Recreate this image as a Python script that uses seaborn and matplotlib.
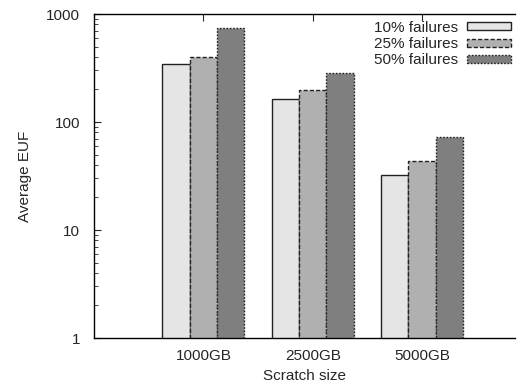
import matplotlib
matplotlib.use("Agg")
import matplotlib.pyplot as plt
from matplotlib.patches import Patch
import seaborn as sns
import pandas as pd

sizes = ["1000GB", "2500GB", "5000GB"]
series = ["10% failures", "25% failures", "50% failures"]
euf_10 = [345, 162, 32]
euf_25 = [400, 198, 44]
euf_50 = [740, 286, 72]

fills = ["#e5e5e5", "#b0b0b0", "#7f7f7f"]
styles = ["solid", (0, (3, 1.5)), (0, (1.2, 1.2))]

rows = []
for s, vals in zip(series, [euf_10, euf_25, euf_50]):
    for sz, v in zip(sizes, vals):
        rows.append({"size": sz, "failures": s, "euf": v})
df = pd.DataFrame(rows)

sns.set_style("white")
plt.rcParams["font.family"] = ["Liberation Sans", "DejaVu Sans"]

fig = plt.figure(figsize=(5.23, 3.85), dpi=100)
ax = fig.add_axes([94 / 523, 47 / 385, 421 / 523, 324 / 385])

sns.barplot(data=df, x="size", y="euf", hue="failures", order=sizes,
            hue_order=series, palette=fills, width=0.75, ax=ax,
            edgecolor="#222222", linewidth=1.0, saturation=1, legend=False)
ax.set_yscale("log")
ax.set_ylim(1, 1000)
ax.set_xlim(-1.0, 2.85)

for cont, ls in zip(ax.containers, styles):
    for p in cont.patches:
        p.set_linestyle(ls)

for side in ["left", "bottom", "top"]:
    ax.spines[side].set_visible(True)
    ax.spines[side].set_color("black")
    ax.spines[side].set_linewidth(1.0)
ax.spines["right"].set_visible(False)

ax.tick_params(axis="y", which="both", direction="in", left=True, right=False,
               labelsize=11, pad=10)
ax.tick_params(axis="y", which="major", length=5)
ax.tick_params(axis="y", which="minor", length=3)
ax.set_yticks([1, 10, 100, 1000])
ax.set_yticklabels(["1", "10", "100", "1000"])
ax.tick_params(axis="x", which="both", direction="in", bottom=True, top=True,
               length=5, labelsize=11, pad=8)
ax.set_zorder(1)

ax.set_xlabel("Scratch size", fontsize=11, labelpad=4)
ax.set_ylabel("Average EUF", fontsize=11, labelpad=10)

handles = [Patch(facecolor=f, edgecolor="#222222", linestyle=ls, linewidth=1.0)
           for f, ls in zip(fills, styles)]
ax.legend(handles, series, loc="upper right", frameon=False, markerfirst=False,
          fontsize=11, handlelength=2.9, handleheight=0.45, labelspacing=0.15,
          borderaxespad=0.3, handletextpad=0.6, bbox_to_anchor=(1.017, 1.012))

fig.savefig("out.png", dpi=100)
